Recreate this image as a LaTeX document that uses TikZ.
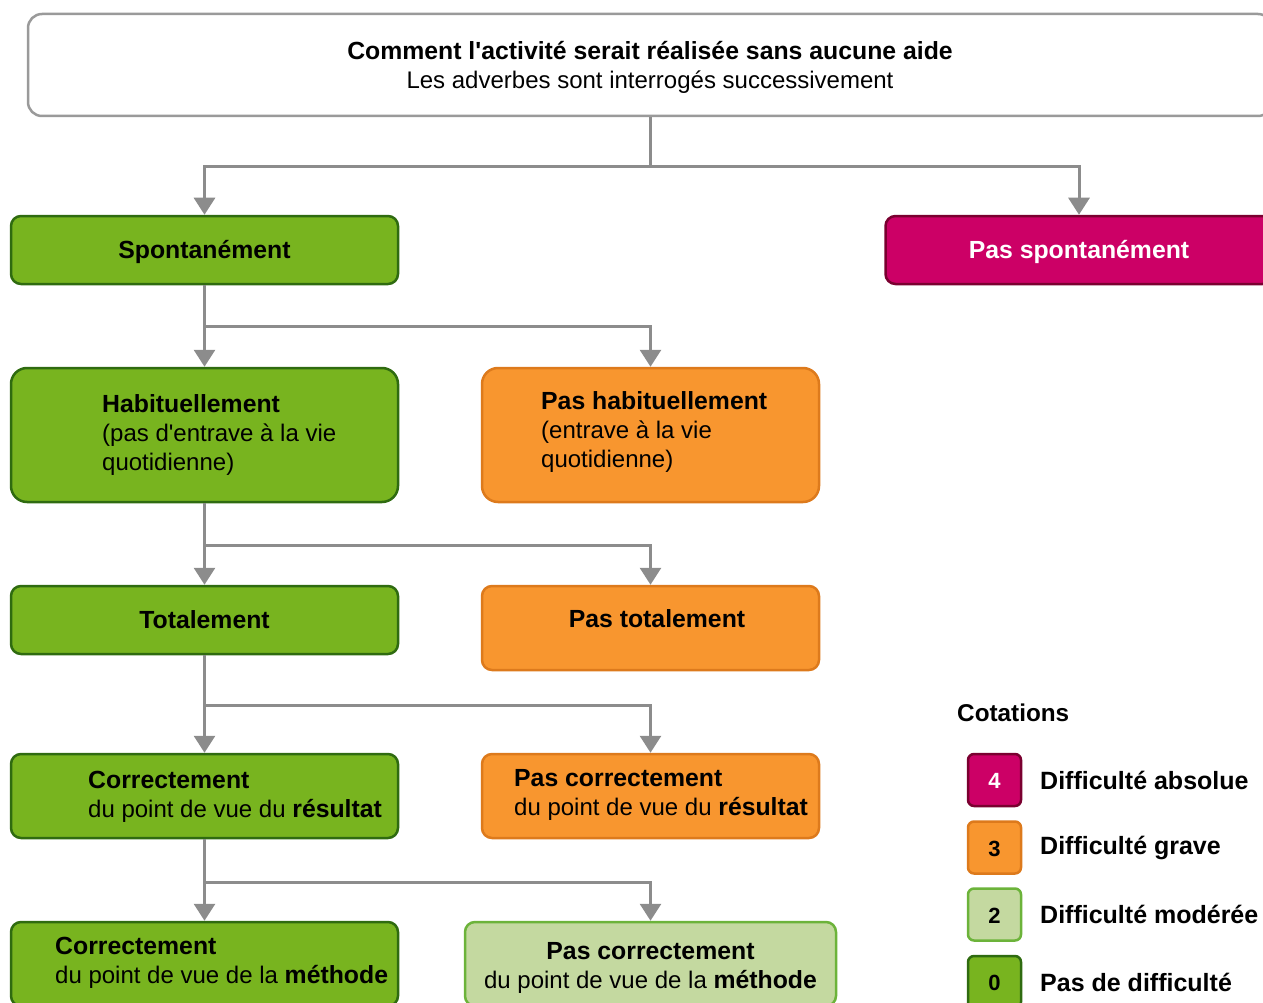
\documentclass[tikz,border=0pt]{standalone}
\usepackage{fontspec}
\setmainfont{Liberation Sans}[Ligatures=TeXOff]
\usetikzlibrary{arrows.meta}
\definecolor{vert}{HTML}{78B41F}
\definecolor{vertfonce}{HTML}{2F6B10}
\definecolor{orange}{HTML}{F8962F}
\definecolor{orangefonce}{HTML}{DD7A1C}
\definecolor{magenta}{HTML}{CC0066}
\definecolor{magentafonce}{HTML}{7A0030}
\definecolor{vertclair}{HTML}{C4D9A0}
\definecolor{vertclairfonce}{HTML}{6CB33A}
\definecolor{gris}{HTML}{8C8C8C}
\definecolor{grisclair}{HTML}{9A9A9A}
\newcommand{\gras}[1]{{\fontsize{24.8}{29}\selectfont\bfseries #1}}
\newcommand{\cotation}[5]{
	\node[#3, minimum width=53pt, minimum height=52pt, rounded corners=6pt, font=\bfseries\fontsize{22}{26}\selectfont] (#1) at (994.5,#2) {#4};
	\node[anchor=west, inner sep=0pt, font=\bfseries\fontsize{25}{29}\selectfont] (#1-t) at (1040,#2) {#5};
}

\begin{document}
\begin{tikzpicture}[x=1pt,y=-1pt,
	font=\fontsize{24}{29}\selectfont,
	boite/.style={draw, line width=2.5pt, rounded corners=10pt, minimum width=387pt, minimum height=68pt, inner sep=0pt, text=black, text height=17pt, text depth=0pt},
	ok/.style={boite, fill=vert, draw=vertfonce},
	grave/.style={boite, fill=orange, draw=orangefonce, minimum width=337pt},
	absolue/.style={boite, fill=magenta, draw=magentafonce, text=white},
	modere/.style={boite, fill=vertclair, draw=vertclairfonce},
	texte/.style={anchor=west, align=left, inner sep=0pt},
	fleche/.style={draw=gris, line width=3pt, -{Triangle[width=21pt,length=17pt]}}]
	\useasboundingbox (0,0) rectangle (1263,1003);
	\clip (0,0) rectangle (1263,1003);

	% question
	\node[boite, draw=grisclair, fill=white, minimum width=1244pt, minimum height=102pt, rounded corners=14pt] (comment) at (650,65) {};
	\node[align=center, inner sep=0pt] (comment-t) at (650,67)
		{\gras{Comment l'activité serait réalisée sans aucune aide}\\Les adverbes sont interrogés successivement};

	% spontanement
	\node[ok] (spont) at (204.5,250) {\gras{Spontanément}};
	\node[absolue] (pspont) at (1079,250) {\gras{Pas spontanément}};

	% habituellement
	\node[ok, minimum height=134pt, rounded corners=16pt] (habit) at (204.5,435) {};
	\node[texte] (habit-t) at (102,435.5) {\gras{Habituellement}\\(pas d'entrave à la vie\\quotidienne)};
	\node[grave, minimum height=134pt, rounded corners=16pt] (phabit) at (650.5,435) {};
	\node[texte] (phabit-t) at (541,432.5) {\gras{Pas habituellement}\\(entrave à la vie\\quotidienne)};

	% totalement
	\node[ok] (total) at (204.5,620) {\gras{Totalement}};
	\node[grave, minimum height=84pt] (ptotal) at (650.5,628) {};
	\node (ptotal-t) at (657,619) {\gras{Pas totalement}};

	% correctement, resultat
	\node[ok, minimum height=84pt] (corres) at (204.5,796) {};
	\node[texte] (corres-t) at (88,796.5) {\gras{Correctement}\\du point de vue du \gras{résultat}};
	\node[grave, minimum height=84pt] (pcorres) at (650.5,796) {};
	\node[texte] (pcorres-t) at (514,794.5) {\gras{Pas correctement}\\du point de vue du \gras{résultat}};

	% correctement, methode
	\node[ok, minimum height=84pt] (cormeth) at (204.5,964) {};
	\node[texte] (cormeth-t) at (55,962.5) {\gras{Correctement}\\du point de vue de la \gras{méthode}};
	\node[modere, minimum width=371pt, minimum height=84pt] (pcormeth) at (650.5,964) {};
	\node[align=center, inner sep=0pt] (pcormeth-t) at (650.5,967.5)
		{\gras{Pas correctement}\\du point de vue de la \gras{méthode}};

	\draw[fleche] (comment.south) -- ++(0,49) -| (spont.north);
	\draw[fleche] (comment.south) -- ++(0,49) -| (pspont.north);
	\draw[fleche] (spont.south) -- (habit.north);
	\draw[fleche] (spont.south) -- ++(0,41) -| (phabit.north);
	\draw[fleche] (habit.south) -- (total.north);
	\draw[fleche] (habit.south) -- ++(0,42) -| (ptotal.north);
	\draw[fleche] (total.south) -- (corres.north);
	\draw[fleche] (total.south) -- ++(0,50) -| (pcorres.north);
	\draw[fleche] (corres.south) -- (cormeth.north);
	\draw[fleche] (corres.south) -- ++(0,43) -| (pcormeth.north);

	% legende
	\node[anchor=west, inner sep=0pt, font=\bfseries\fontsize{24.3}{28}\selectfont] (cotations) at (957,713) {Cotations};
	\cotation{c4}{780}{absolue}{4}{Difficulté absolue}
	\cotation{c3}{847.5}{grave}{3}{Difficulté grave}
	\cotation{c2}{914.5}{modere}{2}{Difficulté modérée}
	\cotation{c0}{982}{ok}{0}{Pas de difficulté}
\end{tikzpicture}
\end{document}
